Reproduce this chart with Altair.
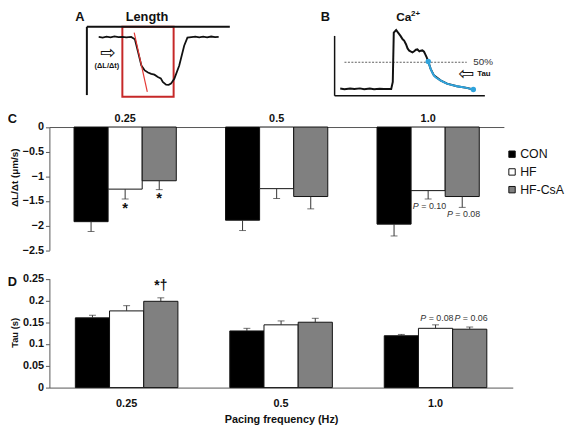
import altair as alt
import pandas as pd

FONT = "Liberation Sans"
INK = "#111111"
AXIS = "#555555"
RED = "#c62828"
BLUE = "#2fa3dc"

# ---------------- Panel A: cell length trace (schematic) ----------------
len_t = [12, 16, 20, 24, 28, 32, 36, 40, 45, 48.7, 52, 55.3, 58.7, 62, 65.3, 68.5, 72, 75, 77,
         80.3, 83, 85.3, 88.7, 93.7, 98.7, 102, 106, 110, 114, 118, 122, 126, 130, 133.7]
len_v = [60.7, 60.1, 60.9, 60.3, 61.2, 60.4, 60.8, 60.2, 60.7, 58.3, 45, 31.7, 26.7, 24.6, 23.3,
         22.4, 20, 18.6, 15, 12.3, 12.1, 13.3, 18.3, 31.7, 51.7, 60, 60.6, 61, 60.2, 60.9, 60.3,
         61.1, 60.4, 60.7]
box_t = [36, 88]
box_v = [0, 71]
slope_t = [48, 61.3]
slope_v = [65, 5]

# ---------------- Panel B: Ca2+ transient (schematic) ----------------
ca_t = [5.7, 10, 15.7, 20, 25.7, 30, 35.7, 40, 45.7, 50, 57.4, 59, 60, 62.4, 64, 65.7, 67, 69,
        70.5, 72.4, 74, 75.7, 77, 79, 81, 82.4, 84, 86, 87.4, 89, 90.7, 92, 93.4, 95, 97.4,
        100.7, 107.4, 114, 124, 134, 140.7]
ca_v = [7.3, 6.6, 7.4, 6.8, 7.5, 6.7, 7.3, 6.6, 7.2, 6.8, 6.9, 14, 64, 66.7, 64.5, 62.3, 60.5,
        57.3, 56, 52.3, 48, 45.7, 45, 44, 45.5, 46.7, 47, 45, 45.7, 46, 44.7, 42, 39, 34.7, 27.3,
        20.7, 15.7, 12.3, 9.7, 8, 6.3]
fit_t = [95, 97.4, 100.7, 107.4, 114, 124, 134, 140.7]
fit_v = [34.7, 27.3, 20.7, 15.7, 12.3, 9.7, 8, 6.3]
half_level = 34

# ---------------- Panels C and D: bar data ----------------
freqs = ["0.25", "0.5", "1.0"]
groups = ["CON", "HF", "HF-CsA"]
fills = ["#000000", "#ffffff", "#808080"]

dldt_con = [-1.92, -1.89, -1.97]
dldt_hf = [-1.26, -1.25, -1.29]
dldt_csa = [-1.09, -1.41, -1.41]
dldt_con_err = [0.20, 0.21, 0.24]
dldt_hf_err = [0.20, 0.20, 0.17]
dldt_csa_err = [0.18, 0.25, 0.22]

tau_con = [0.160, 0.130, 0.119]
tau_hf = [0.176, 0.144, 0.136]
tau_csa = [0.198, 0.150, 0.134]
tau_con_err = [0.006, 0.006, 0.003]
tau_hf_err = [0.012, 0.009, 0.008]
tau_csa_err = [0.008, 0.009, 0.005]

c_stars = [("0.25", "HF"), ("0.25", "HF-CsA")]
c_pvals = [("1.0", "HF", "= 0.10"), ("1.0", "HF-CsA", "= 0.08")]
d_marks = [("0.25", "HF-CsA", "*†")]
d_pvals = [("1.0", "HF", "= 0.08"), ("1.0", "HF-CsA", "= 0.06")]


def long_df(vals, errs, sign):
    rows = []
    for gi, g in enumerate(groups):
        for fi, f in enumerate(freqs):
            v = vals[gi][fi]
            e = errs[gi][fi]
            rows.append({"freq": f, "group": g, "value": v, "end": v + sign * e})
    return pd.DataFrame(rows)


dfC = long_df([dldt_con, dldt_hf, dldt_csa], [dldt_con_err, dldt_hf_err, dldt_csa_err], -1)
dfD = long_df([tau_con, tau_hf, tau_csa], [tau_con_err, tau_hf_err, tau_csa_err], 1)


def pick(df, items):
    rows = []
    for it in items:
        r = df[(df.freq == it[0]) & (df.group == it[1])].iloc[0].to_dict()
        if len(it) > 2:
            r["label"] = it[2]
        rows.append(r)
    return pd.DataFrame(rows)


starsC = pick(dfC, c_stars)
pC = pick(dfC, c_pvals)
marksD = pick(dfD, d_marks)
pD = pick(dfD, d_pvals)

# ---------------- Panel A chart ----------------
xA = alt.X("t:Q", scale=alt.Scale(domain=[0, 145], range=[80, 225], nice=False, zero=False), axis=None)
yA = alt.Y("v:Q", scale=alt.Scale(domain=[0, 72], range=[87, 15], nice=False, zero=False), axis=None)

a_trace = alt.Chart(pd.DataFrame({"t": len_t, "v": len_v})).mark_line(
    color=INK, strokeWidth=1.8).encode(x=xA, y=yA)
a_box = alt.Chart(pd.DataFrame({"t": [box_t[0]], "t2": [box_t[1]], "v": [box_v[0]], "v2": [box_v[1]]})).mark_rect(
    fillOpacity=0, stroke=RED, strokeWidth=2).encode(x=xA, x2="t2:Q", y=yA, y2="v2:Q")
a_slope = alt.Chart(pd.DataFrame({"t": [slope_t[0]], "t2": [slope_t[1]], "v": [slope_v[0]], "v2": [slope_v[1]]})).mark_rule(
    color="#e53935", strokeWidth=1.2).encode(x=xA, x2="t2:Q", y=yA, y2="v2:Q")
a_axes = alt.Chart(pd.DataFrame({"t": [0, 0], "t2": [0, 145], "v": [1.7, 71], "v2": [71, 71]})).mark_rule(
    color=INK, strokeWidth=2).encode(x=xA, x2="t2:Q", y=yA, y2="v2:Q")
a_titles = alt.Chart(pd.DataFrame({"t": [-7, 61], "v": [81, 81], "label": ["A", "Length"]})).mark_text(
    fontSize=13, fontWeight="bold", color=INK, baseline="middle").encode(x=xA, y=yA, text="label:N")
a_arrow = alt.Chart(pd.DataFrame({"t": [21.3], "v": [44.3], "label": ["⇨"]})).mark_text(
    fontSize=19, font="DejaVu Sans", color=INK, baseline="middle").encode(x=xA, y=yA, text="label:N")
a_note = alt.Chart(pd.DataFrame({"t": [20.3], "v": [30.7], "label": ["(ΔL/Δt)"]})).mark_text(
    fontSize=7.5, fontWeight="bold", color=INK, baseline="middle").encode(x=xA, y=yA, text="label:N")
panelA = alt.layer(a_box, a_axes, a_trace, a_slope, a_titles, a_arrow, a_note)

# ---------------- Panel B chart ----------------
xB = alt.X("t:Q", scale=alt.Scale(domain=[0, 152.4], range=[331.3, 483.7], nice=False, zero=False), axis=None)
yB = alt.Y("v:Q", scale=alt.Scale(domain=[0, 70], range=[86, 16], nice=False, zero=False), axis=None)

b_axes = alt.Chart(pd.DataFrame({"t": [0, 0], "t2": [0, 152.4], "v": [0, 0], "v2": [60.7, 0]})).mark_rule(
    color=INK, strokeWidth=1.5).encode(x=xB, x2="t2:Q", y=yB, y2="v2:Q")
b_half = alt.Chart(pd.DataFrame({"t": [10], "t2": [134], "v": [half_level]})).mark_rule(
    color="#333333", strokeWidth=0.8, strokeDash=[2, 1.5]).encode(x=xB, x2="t2:Q", y=yB)
b_trace = alt.Chart(pd.DataFrame({"t": ca_t, "v": ca_v})).mark_line(
    color=INK, strokeWidth=2).encode(x=xB, y=yB)
b_fit = alt.Chart(pd.DataFrame({"t": fit_t, "v": fit_v})).mark_line(
    color=BLUE, strokeWidth=2, interpolate="monotone").encode(x=xB, y=yB)
b_dots = alt.Chart(pd.DataFrame({"t": [fit_t[0], fit_t[-1]], "v": [fit_v[0], fit_v[-1]]})).mark_point(
    filled=True, color=BLUE, size=30, opacity=1).encode(x=xB, y=yB)
b_title = alt.Chart(pd.DataFrame({"t": [-9.3], "v": [80], "label": ["B"]})).mark_text(
    fontSize=13, fontWeight="bold", color=INK, baseline="middle").encode(x=xB, y=yB, text="label:N")
b_ca = alt.Chart(pd.DataFrame({"t": [62.4], "v": [80], "label": ["Ca"]})).mark_text(
    fontSize=12, fontWeight="bold", color=INK, baseline="middle", align="left").encode(x=xB, y=yB, text="label:N")
b_sup = alt.Chart(pd.DataFrame({"t": [77.5], "v": [83], "label": ["2+"]})).mark_text(
    fontSize=8, fontWeight="bold", color=INK, baseline="middle", align="left").encode(x=xB, y=yB, text="label:N")
b_pct = alt.Chart(pd.DataFrame({"t": [150.7], "v": [34.7], "label": ["50%"]})).mark_text(
    fontSize=10, color="#333333", baseline="middle").encode(x=xB, y=yB, text="label:N")
b_arrow = alt.Chart(pd.DataFrame({"t": [133.7], "v": [22.3], "label": ["⇦"]})).mark_text(
    fontSize=19, font="DejaVu Sans", color=INK, baseline="middle").encode(x=xB, y=yB, text="label:N")
b_tau = alt.Chart(pd.DataFrame({"t": [151.4], "v": [22.3], "label": ["Tau"]})).mark_text(
    fontSize=8, fontWeight="bold", color=INK, baseline="middle").encode(x=xB, y=yB, text="label:N")
panelB = alt.layer(b_axes, b_half, b_trace, b_fit, b_dots, b_title, b_ca, b_sup, b_pct, b_arrow, b_tau)

# ---------------- Panel C chart ----------------
xC = alt.X("freq:N", sort=freqs,
           scale=alt.Scale(domain=freqs, range=[42, 503], paddingInner=0.325, paddingOuter=0.1625),
           axis=alt.Axis(orient="top", offset=-117.7, title=None, labelAngle=0, ticks=False,
                         labelFontWeight="bold", labelFontSize=11, labelPadding=4, labelColor=INK,
                         domainColor=AXIS, domainWidth=1))
xoC = alt.XOffset("group:N", sort=groups, scale=alt.Scale(domain=groups, paddingInner=0, paddingOuter=0))
yC = alt.Y("value:Q",
           scale=alt.Scale(domain=[-2.5, 0], range=[242.7, 117.7], nice=False, zero=False),
           axis=alt.Axis(orient="left", offset=-42, values=[0, -0.5, -1, -1.5, -2, -2.5], format="~g",
                         tickSize=4, tickColor=AXIS, domainColor=AXIS, labelFontWeight="bold",
                         labelFontSize=11, labelPadding=2, labelColor=INK,
                         title="ΔL/Δt (μm/s)", titleFontSize=10, titleFontWeight="bold", titleColor=INK,
                         titleAngle=270, titleX=-35.5, titleY=168.7, titleAlign="center",
                         titleBaseline="middle"))
yCend = alt.Y("end:Q", scale=alt.Scale(domain=[-2.5, 0], range=[242.7, 117.7], nice=False, zero=False))

c_bars = alt.Chart(dfC).mark_bar(stroke=INK, strokeWidth=1).encode(
    x=xC, xOffset=xoC, y=yC,
    fill=alt.Fill("group:N", sort=groups, scale=alt.Scale(domain=groups, range=fills),
                  legend=alt.Legend(orient="none", legendX=505, legendY=139, title=None,
                                    symbolType="square", symbolSize=42, symbolStrokeColor=INK,
                                    symbolStrokeWidth=1, symbolOpacity=1, labelFontSize=12.5,
                                    labelFont=FONT, labelColor=INK, labelOffset=2, rowPadding=5,
                                    padding=0)))
c_err = alt.Chart(dfC).mark_rule(color="#333333", strokeWidth=1).encode(
    x=xC, xOffset=xoC, y="value:Q", y2="end:Q")
c_cap = alt.Chart(dfC).mark_tick(color="#333333", thickness=1, size=7).encode(
    x=xC, xOffset=xoC, y=yCend)
c_star = alt.Chart(starsC).mark_text(text="*", fontSize=15, fontWeight="bold", color=INK,
                                     baseline="top", dy=2).encode(x=xC, xOffset=xoC, y=yCend)
c_pP = alt.Chart(pC).mark_text(text="P", fontSize=9, fontStyle="italic", color="#333333",
                               baseline="middle", align="left", dx=-15.5, dy=7).encode(
    x=xC, xOffset=xoC, y=yCend)
c_pV = alt.Chart(pC).mark_text(fontSize=9, color="#333333", baseline="middle", align="left",
                               dx=-7, dy=7).encode(x=xC, xOffset=xoC, y=yCend, text="label:N")
c_letter = alt.Chart(pd.DataFrame({"label": ["C"]})).mark_text(
    fontSize=13, fontWeight="bold", color=INK, baseline="middle").encode(
    x=alt.value(4.5), y=alt.value(109.5), text="label:N")
panelC = alt.layer(c_bars, c_err, c_cap, c_star, c_pP, c_pV, c_letter)

# ---------------- Panel D chart ----------------
xD = alt.X("freq:N", sort=freqs,
           scale=alt.Scale(domain=freqs, range=[42, 512], paddingInner=0.336, paddingOuter=0.168),
           axis=alt.Axis(orient="bottom", offset=-41, labelAngle=0, ticks=False,
                         labelFontWeight="bold", labelFontSize=11, labelPadding=10, labelColor=INK,
                         domainColor=AXIS, domainWidth=1,
                         title="Pacing frequency (Hz)", titleFontSize=11, titleFontWeight="bold",
                         titleColor=INK, titlePadding=5))
xoD = alt.XOffset("group:N", sort=groups, scale=alt.Scale(domain=groups, paddingInner=0, paddingOuter=0))
yD = alt.Y("value:Q",
           scale=alt.Scale(domain=[0, 0.25], range=[382, 271.5], nice=False, zero=False),
           axis=alt.Axis(orient="left", offset=-42, values=[0, 0.05, 0.1, 0.15, 0.2, 0.25], format="~g",
                         tickSize=4, tickColor=AXIS, domainColor=AXIS, labelFontWeight="bold",
                         labelFontSize=11, labelPadding=2, labelColor=INK,
                         title="Tau (s)", titleFontSize=9.5, titleFontWeight="bold", titleColor=INK,
                         titleAngle=270, titleX=-35.5, titleY=326, titleAlign="center",
                         titleBaseline="middle"))
yDend = alt.Y("end:Q", scale=alt.Scale(domain=[0, 0.25], range=[382, 271.5], nice=False, zero=False))
yDtop = alt.Y("ptop:Q", scale=alt.Scale(domain=[0, 0.25], range=[382, 271.5], nice=False, zero=False))

d_bars = alt.Chart(dfD).mark_bar(stroke=INK, strokeWidth=1).encode(
    x=xD, xOffset=xoD, y=yD,
    fill=alt.Fill("group:N", sort=groups, scale=alt.Scale(domain=groups, range=fills), legend=None))
d_err = alt.Chart(dfD).mark_rule(color="#333333", strokeWidth=1).encode(
    x=xD, xOffset=xoD, y="value:Q", y2="end:Q")
d_cap = alt.Chart(dfD).mark_tick(color="#333333", thickness=1, size=7).encode(
    x=xD, xOffset=xoD, y=yDend)
d_mark = alt.Chart(marksD).mark_text(fontSize=14, fontWeight="bold", color=INK,
                                     baseline="alphabetic", dy=-8).encode(
    x=xD, xOffset=xoD, y=yDend, text="label:N")
d_pP = alt.Chart(pD).transform_joinaggregate(ptop="max(end)", groupby=["freq"]).mark_text(
    text="P", fontSize=9, fontStyle="italic", color="#333333", baseline="middle", align="left",
    dx=-15.5, dy=-7.4).encode(x=xD, xOffset=xoD, y=yDtop)
d_pV = alt.Chart(pD).transform_joinaggregate(ptop="max(end)", groupby=["freq"]).mark_text(
    fontSize=9, color="#333333", baseline="middle", align="left", dx=-7, dy=-7.4).encode(
    x=xD, xOffset=xoD, y=yDtop, text="label:N")
d_letter = alt.Chart(pd.DataFrame({"label": ["D"]})).mark_text(
    fontSize=13, fontWeight="bold", color=INK, baseline="middle").encode(
    x=alt.value(4.5), y=alt.value(275), text="label:N")
panelD = alt.layer(d_bars, d_err, d_cap, d_mark, d_pP, d_pV, d_letter)

chart = alt.layer(panelA, panelB, panelC, panelD).resolve_scale(
    x="independent", y="independent", xOffset="independent", fill="independent"
).properties(
    width=566, height=423, padding=0, autosize=alt.AutoSizeParams(type="none")
).configure(font=FONT).configure_view(stroke=None).configure_axis(grid=False)

chart.save("out.html", embed_options={"renderer": "svg", "actions": False})
